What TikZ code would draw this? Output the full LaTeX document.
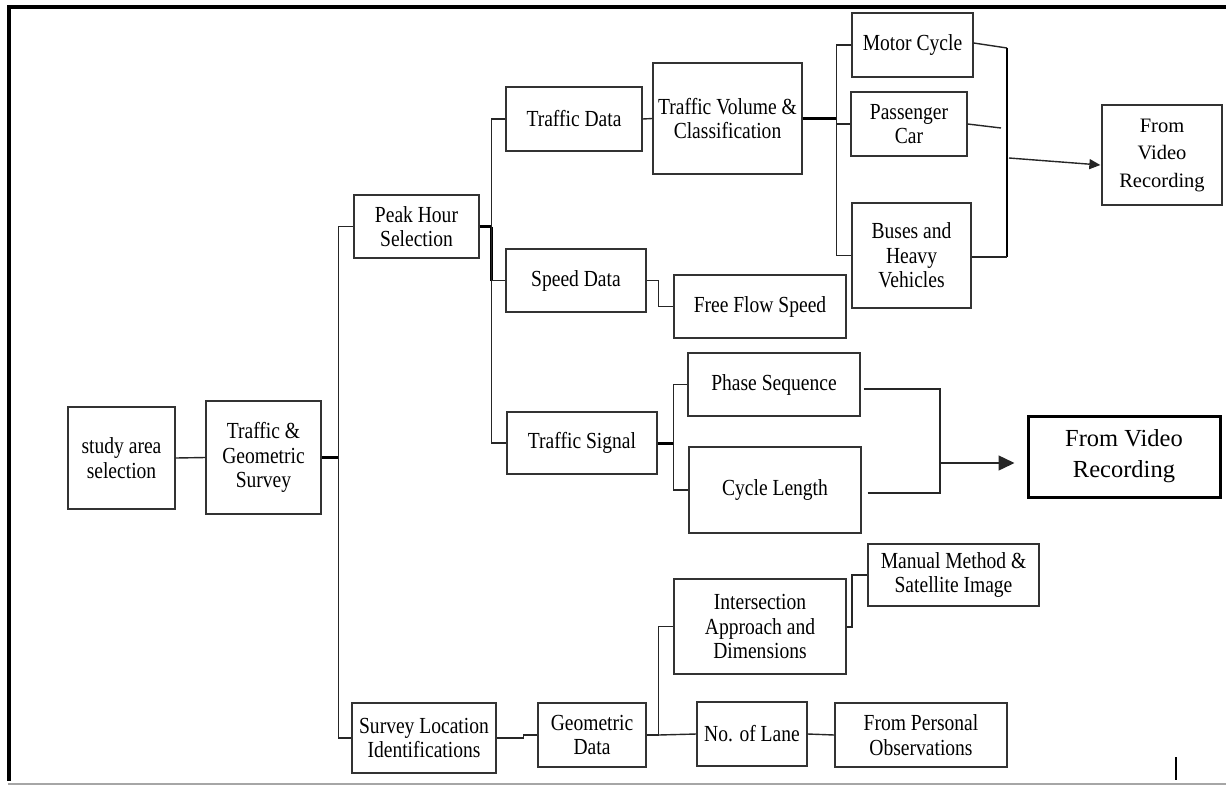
\documentclass[tikz,border=0pt]{standalone}
\usepackage{fontspec}
\setmainfont{Liberation Serif}[FakeStretch=0.85]
\newfontfamily\plainserif{Liberation Serif}
\usetikzlibrary{arrows.meta}
\newcommand\fsA{\fontsize{23}{24.5}\selectfont}
\newcommand\fsB{\plainserif\fontsize{20.5}{27.5}\selectfont}
\newcommand\fsC{\plainserif\fontsize{24.5}{31}\selectfont}
\begin{document}
\begin{tikzpicture}[x=1pt,y=-1pt,
  box/.style={draw=black!80, line width=1.3pt, fill=white, inner sep=0pt, align=center, font=\fsA},
  conn/.style={draw=black!85, line width=1.4pt},
  thickconn/.style={draw=black, line width=3pt},
  frameline/.style={draw=black, line width=4pt}]
\useasboundingbox (0,0) rectangle (1226,785);
% frame
\draw[frameline] (7,7) -- (1226,7);
\draw[frameline] (9,5) -- (9,781);
\draw[draw=black!35, line width=1.5pt] (8,784) -- (1226,784);
\coordinate (tk1) at (1176,757);
\coordinate (tk2) at (1176,780);
\draw[line width=1.2pt] (tk1) -- (tk2);
% boxes
\node[box, minimum width=107pt, minimum height=102pt] (sas) at (121.5,458) {study area\\selection};
\node[box, minimum width=115pt, minimum height=113pt] (tgs) at (263.5,457.5) {Traffic \&\\Geometric\\Survey};
\node[box, minimum width=125pt, minimum height=63pt] (phs) at (416.5,226.5) {Peak Hour\\Selection};
\node[box, minimum width=136pt, minimum height=64pt] (td) at (574,119) {Traffic Data};
\node[box, minimum width=149pt, minimum height=111pt] (tvc) at (727.5,118.5) {Traffic Volume \&\\Classification};
\node[box, minimum width=121pt, minimum height=64pt] (mc) at (912.5,45) {Motor Cycle};
\node[box, minimum width=116pt, minimum height=64pt] (pc) at (909,124) {Passenger\\Car};
\node[box, minimum width=119pt, minimum height=105pt] (bhv) at (911.5,255.5) {Buses and\\Heavy\\Vehicles};
\node[box, minimum width=120pt, minimum height=100pt, font=\fsB] (fvr1) at (1162,155) {From\\Video\\Recording};
\node[box, minimum width=140pt, minimum height=63pt] (sd) at (576,280.5) {Speed Data};
\node[box, minimum width=172pt, minimum height=63pt] (ffs) at (760,306.5) {Free Flow Speed};
\node[box, minimum width=150pt, minimum height=62pt] (ts) at (582,443) {Traffic Signal};
\node[box, minimum width=172pt, minimum height=63pt] (ps) at (774,384.5) {Phase Sequence};
\node[box, minimum width=172pt, minimum height=86pt] (cl) at (775,490) {Cycle Length};
\node[box, draw=black, line width=3pt, minimum width=192pt, minimum height=81pt, font=\fsC] (fvr2) at (1124,456.5) {From Video\\Recording};
\node[box, minimum width=144pt, minimum height=70pt] (sli) at (424,738) {Survey Location\\Identifications};
\node[box, minimum width=108pt, minimum height=64pt] (gd) at (592,735) {Geometric\\Data};
\node[box, minimum width=172pt, minimum height=95pt] (iad) at (760,626.5) {Intersection\\Approach and\\Dimensions};
\node[box, minimum width=171pt, minimum height=62pt] (mms) at (953.5,575) {Manual Method \&\\Satellite Image};
\node[box, minimum width=110pt, minimum height=64pt] (nol) at (752,734) {No. of Lane};
\node[box, minimum width=172pt, minimum height=64pt] (fpo) at (921,735) {From Personal\\Observations};
% connectors
\draw[conn] (sas.east) -- (tgs.west);
\draw[thickconn] (tgs.east) -- ++(17,0) coordinate (j1);
\draw[conn] (j1) |- (phs.west);
\draw[conn] (j1) |- (sli.west);
\draw[thickconn] (phs.east) -- ++(12,0) coordinate (j2);
\draw[conn] (j2) |- (td.west);
\draw[thickconn] (j2) -- (j2 |- sd.west);
\draw[conn] (j2) |- (sd.west);
\draw[conn] (j2) |- (ts.west);
\draw[conn] (td.east) -- (tvc.west);
\draw[thickconn] (tvc.east) -- ++(34,0) coordinate (j3);
\draw[conn] (j3) |- (mc.west);
\draw[conn] (j3) |- (pc.west);
\draw[conn] (j3) |- (bhv.west);
\coordinate (b1) at (1007,48);
\coordinate (b2) at (1007,257);
\draw[conn] ([yshift=2pt]mc.east) -- (b1);
\draw[thickconn, line width=2.4pt] (b1) -- (b2);
\draw[conn] ([yshift=-1.5pt]bhv.east) -- (b2);
\coordinate (pce) at (1001,128);
\draw[conn] (pc.east) -- (pce);
\coordinate (a1) at (1009,158);
\draw[conn, -{Triangle[length=11pt,width=10pt]}] (a1) -- ([xshift=-1pt,yshift=-10pt]fvr1.west);
\draw[conn] (sd.east) -- ++(12,0) |- (ffs.west);
\draw[thickconn] (ts.east) -- ++(16,0) coordinate (j4);
\draw[conn] (j4) |- (ps.west);
\draw[conn] (j4) |- (cl.west);
\coordinate (j5) at (940,463);
\draw[conn] ([xshift=3pt,yshift=-4.5pt]ps.east) -| (j5);
\draw[conn] ([xshift=6pt,yshift=-3pt]cl.east) -| (j5);
\draw[conn, -{Triangle[length=16pt,width=15pt]}] (j5) -- ([xshift=-12pt,yshift=-6.5pt]fvr2.west);
\draw[conn] (sli.east) -- ++(27,0) |- (gd.west);
\draw[conn] (gd.east) -- ++(12,0) coordinate (j6);
\draw[conn] (j6) |- (iad.west);
\draw[conn] (j6) -- (nol.west);
\draw[conn, line width=2pt] (iad.east) -- ++(5,0) |- (mms.west);
\draw[conn] (nol.east) -- (fpo.west);
\end{tikzpicture}
\end{document}
